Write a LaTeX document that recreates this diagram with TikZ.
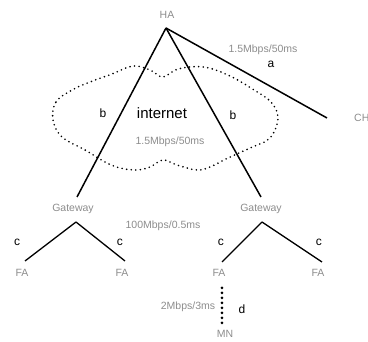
\documentclass[tikz,border=0pt]{standalone}
\usepackage{fontspec}
\setmainfont{Liberation Sans}
\begin{document}
\begin{tikzpicture}[x=1pt,y=-1pt,
  link/.style={line width=1.5pt,black},
  sublink/.style={line width=1.3pt,black},
  lbl/.style={text=black!45,font=\fontsize{10.5}{12}\selectfont,inner sep=0pt},
  bw/.style={text=black!45,font=\fontsize{10.5}{12}\selectfont,inner sep=0pt},
  let/.style={text=black,font=\fontsize{12}{14}\selectfont,inner sep=0pt},
  cloudline/.style={line width=1.8pt,dash pattern=on 0pt off 4.6pt,line cap=round},
  wireless/.style={line width=3pt,dash pattern=on 0pt off 5pt,line cap=round}]
\useasboundingbox (0,0) rectangle (368,342);
% coordinates
\coordinate (ha) at (166,28);
\coordinate (chend) at (327,118);
\coordinate (gwLtop) at (77,197);
\coordinate (gwRtop) at (261,197);
\coordinate (gwL) at (76,222);
\coordinate (gwR) at (262,222);
\coordinate (faLL) at (25,261);
\coordinate (faLR) at (125,261);
\coordinate (faRL) at (222,262);
\coordinate (faRR) at (322,262);
\coordinate (mnA) at (222,288);
\coordinate (mnB) at (222,323);
% cloud
\draw[cloudline] plot[smooth cycle,tension=0.6] coordinates {
 (53,120) (56,102) (72,90) (90,82) (112,74) (133,66) (150,70) (163,77)
 (178,69) (204,67) (230,76) (254,90) (271,102) (278,118) (270,138)
 (250,148) (228,158) (210,167) (197,170) (177,165) (163,160) (150,167)
 (137,170) (120,168) (105,162) (85,150) (62,137)};
% links
\draw[link] (ha) -- (chend);
\draw[link] (ha) -- (gwLtop);
\draw[link] (ha) -- (gwRtop);
\draw[sublink] (gwL) -- (faLL);
\draw[sublink] (gwL) -- (faLR);
\draw[sublink] (gwR) -- (faRL);
\draw[sublink] (gwR) -- (faRR);
\draw[wireless] (mnA) -- (mnB);
% node labels
\node[lbl] (halbl) at (167,15) {HA};
\node[lbl,anchor=west] (chlbl) at (354,118) {CH};
\node[lbl] (gwLlbl) at (73,209) {Gateway};
\node[lbl] (gwRlbl) at (261,209) {Gateway};
\node[lbl] (fa1) at (22,273) {FA};
\node[lbl] (fa2) at (122,273) {FA};
\node[lbl] (fa3) at (219,273) {FA};
\node[lbl] (fa4) at (318,273) {FA};
\node[lbl] (mnlbl) at (225,334) {MN};
% link labels
\node[bw] (bwa) at (263,50) {1.5Mbps/50ms};
\node[let] (la) at (271,64) {a};
\node[let] (lb1) at (103,113) {b};
\node[text=black,font=\fontsize{15}{17}\selectfont,inner sep=0pt] (inet) at (162,113) {internet};
\node[bw] (bwb) at (170,142) {1.5Mbps/50ms};
\node[let] (lb2) at (233,115) {b};
\node[bw] (bwc) at (163,226) {100Mbps/0.5ms};
\node[let] (lc1) at (17,242) {c};
\node[let] (lc2) at (120,242) {c};
\node[let] (lc3) at (221,242) {c};
\node[let] (lc4) at (319,242) {c};
\node[bw] (bwd) at (188,307) {2Mbps/3ms};
\node[let] (ld) at (242,309) {d};
\end{tikzpicture}
\end{document}
